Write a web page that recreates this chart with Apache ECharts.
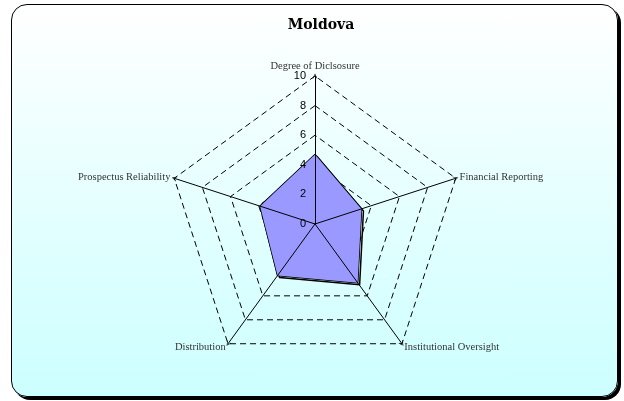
<!DOCTYPE html>
<html>
<head>
<meta charset="utf-8">
<script src="https://cdn.jsdelivr.net/npm/echarts@6/dist/echarts.min.js"></script>
<style>
  html, body { margin: 0; padding: 0; background: #fff; }
  #frame {
    position: absolute; left: 11px; top: 4px; width: 605px; height: 391px;
    border: 1.5px solid #000; border-radius: 16px;
    box-shadow: 3px 3px 0 #000;
    background: linear-gradient(to bottom, #ffffff 0%, #ccffff 100%);
  }
  #chart { position: absolute; left: 0; top: 0; width: 624px; height: 401px; }
</style>
</head>
<body>
<div id="frame"></div>
<div id="chart"></div>
<script>
// indicators listed counter-clockwise from the top (ECharts radar order)
const categories = ['Degree of Diclsosure', 'Prospectus Reliability', 'Distribution', 'Institutional Oversight', 'Financial Reporting'];
const values = [4.7, 3.9, 4.3, 4.9, 3.3];
const axisMax = 10;

const center = [315, 224];
const radius = 148;
// open arrow head (chevron), tip pointing up
const openArrow = 'path://M0,10 L5,0 L10,10 L8.6,10 L5,2.6 L1.4,10 Z';

const chart = echarts.init(document.getElementById('chart'));
chart.setOption({
  animation: false,
  title: {
    text: 'Moldova',
    left: 316,
    textAlign: 'center',
    top: 13,
    textStyle: { fontFamily: 'DejaVu Serif', fontSize: 14, fontWeight: 'bold', color: '#000' }
  },
  radar: [
    {
      // grid rings and names, below the series
      center,
      radius,
      startAngle: 90,
      shape: 'polygon',
      splitNumber: 5,
      nameGap: 4,
      z: 0,
      axisName: { fontFamily: 'Liberation Serif', fontSize: 10.5, color: '#333' },
      axisLine: { show: false },
      splitLine: { lineStyle: { color: '#000', width: 1, type: [6, 4] } },
      splitArea: { show: false },
      axisTick: { show: false },
      axisLabel: { show: false },
      indicator: categories.map((name) => ({ name, min: 0, max: axisMax }))
    },
    {
      // axis spokes and tick labels, drawn over the filled area
      center,
      radius,
      startAngle: 90,
      shape: 'polygon',
      splitNumber: 5,
      z: 5,
      axisName: { show: false },
      axisLine: { show: true, symbol: ['none', openArrow], symbolSize: [9, 5], lineStyle: { color: '#000', width: 1 } },
      splitLine: { show: false },
      splitArea: { show: false },
      axisTick: { show: false },
      axisLabel: { show: false },
      indicator: categories.map((name, i) => ({
        name: '',
        min: 0,
        max: axisMax,
        axisLabel: i === 0
          ? { show: true, fontFamily: 'Liberation Sans', fontSize: 11, color: '#000', margin: 9 }
          : { show: false }
      }))
    }
  ],
  series: [
    {
      // drop shadow of the outline, hidden by the fill except on the lower-right edges
      type: 'radar',
      radarIndex: 0,
      symbol: 'none',
      z: 2,
      data: [{ value: values }],
      lineStyle: { color: '#000', width: 1.5, shadowColor: '#000', shadowOffsetX: 2, shadowOffsetY: 2, shadowBlur: 0 }
    },
    {
      type: 'radar',
      radarIndex: 0,
      symbol: 'none',
      z: 3,
      data: [{ value: values }],
      lineStyle: { color: '#000', width: 1 },
      areaStyle: { color: '#9999ff', opacity: 1 }
    }
  ]
});
</script>
</body>
</html>
